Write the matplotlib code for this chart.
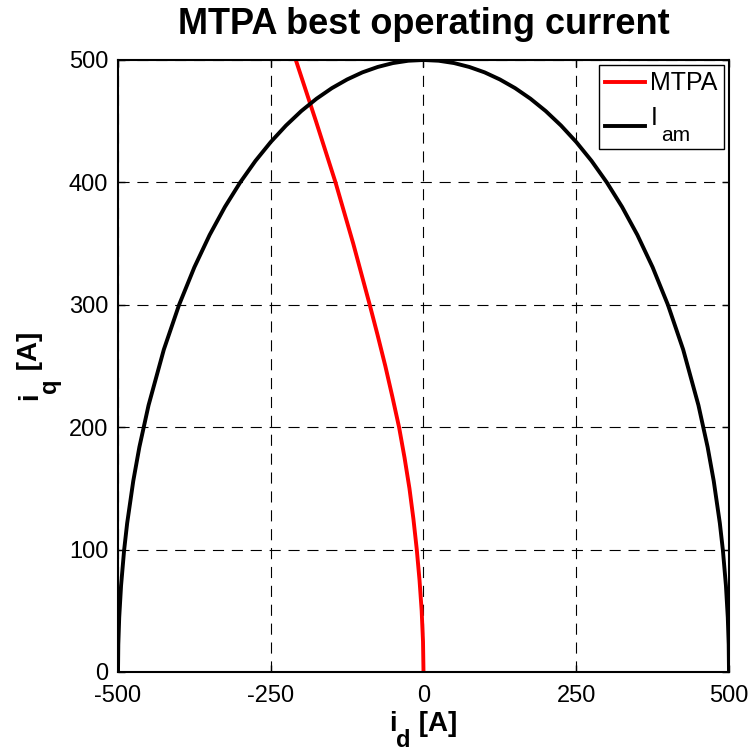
import matplotlib
matplotlib.use('Agg')
import matplotlib.pyplot as plt

plt.rcParams['font.family'] = ['Liberation Sans', 'DejaVu Sans']
plt.rcParams['axes.unicode_minus'] = False

# MTPA trajectory
mtpa_iq = [0, 25, 50, 75, 100, 125, 150, 175, 200, 225, 250, 275, 300, 350, 400, 450, 500]
mtpa_id = [0, -0.8, -3, -6.5, -11, -16.5, -23, -31, -40, -51, -62.5, -75, -88, -115, -144, -176, -209]

# current limit circle I_am (upper half)
lim_id = [-500, -499.5, -498, -495, -490, -485, -475, -465, -450, -425, -400, -375, -350,
          -325, -300, -275, -250, -225, -200, -175, -150, -125, -100, -75, -50, -25, 0,
          25, 50, 75, 100, 125, 150, 175, 200, 225, 250, 275, 300, 325, 350, 375, 400,
          425, 450, 465, 475, 485, 490, 495, 498, 499.5, 500]
lim_iq = [0, 22.4, 44.7, 70.5, 99.5, 121.6, 156.1, 183.8, 217.9, 263.4, 300.0, 330.7, 357.1,
          380.0, 400.0, 417.6, 433.0, 446.5, 458.3, 468.4, 477.0, 484.1, 489.9, 494.3, 497.5, 499.4, 500,
          499.4, 497.5, 494.3, 489.9, 484.1, 477.0, 468.4, 458.3, 446.5, 433.0, 417.6, 400.0, 380.0, 357.1,
          330.7, 300.0, 263.4, 217.9, 183.8, 156.1, 121.6, 99.5, 70.5, 44.7, 22.4, 0]

xticks = [-500, -250, 0, 250, 500]
yticks = [0, 100, 200, 300, 400, 500]

W = H = 753
fig = plt.figure(figsize=(W / 100, H / 100), dpi=100)
ax = fig.add_axes([118 / W, 1 - 672 / H, 611 / W, 612 / H])

ax.plot(mtpa_id, mtpa_iq, color='red', lw=2.8, label='MTPA')
ax.plot(lim_id, lim_iq, color='black', lw=2.8, label='I\n ')

ax.set_xlim(-500, 500)
ax.set_ylim(0, 500)
ax.set_xticks(xticks)
ax.set_yticks(yticks)
ax.grid(True, color='black', ls=(0, (10, 7)), lw=0.8)
ax.tick_params(direction='in', top=True, right=True, length=5, width=1, labelsize=17)
ax.tick_params(axis='x', pad=9)
ax.tick_params(axis='y', pad=7)
for s in ax.spines.values():
    s.set_linewidth(1.5)

ax.set_title('MTPA best operating current', fontsize=26, fontweight='bold', pad=19)

leg = ax.legend(loc='upper right', fontsize=18, fancybox=False, edgecolor='black',
                framealpha=1, handlelength=1.6, handletextpad=0.2, borderpad=0.25,
                borderaxespad=0.2, labelspacing=0.45)
leg.get_frame().set_linewidth(1)
leg.get_texts()[1].set_linespacing(0.4)

fig.canvas.draw()
r = fig.canvas.get_renderer()


def place(cx, cy, pieces, rot=0):
    # pieces: (text, size, drop in px below main baseline); centred on cx, cy (px from bottom)
    texts = []
    total = 0
    for s, size, drop in pieces:
        t = fig.text(0, 0, s, fontsize=size, fontweight='bold', rotation=rot,
                     ha='left', va='baseline', rotation_mode='anchor')
        bb = t.get_window_extent(r)
        texts.append((t, drop, total))
        total += bb.width if rot == 0 else bb.height
    for t, drop, off in texts:
        if rot == 0:
            t.set_position(((cx - total / 2 + off) / W, (cy - drop) / H))
        else:
            t.set_position(((cx + drop) / W, (cy - total / 2 + off) / H))


# axis labels with low MATLAB-style subscripts
place(423, H - 731, [('i', 20, 0), ('d', 17, 16), (' [A]', 20, 0)])
place(37, H - 366, [('i', 20, 0), ('q', 17, 19), (' [A]', 20, 0)], rot=90)

# subscript of the legend entry I_am
bb = leg.get_texts()[1].get_window_extent(r)
fig.text((bb.x0 + 11) / W, (bb.y0 + 2) / H, 'am', fontsize=15, ha='left', va='baseline')

fig.savefig('out.png', dpi=100)
